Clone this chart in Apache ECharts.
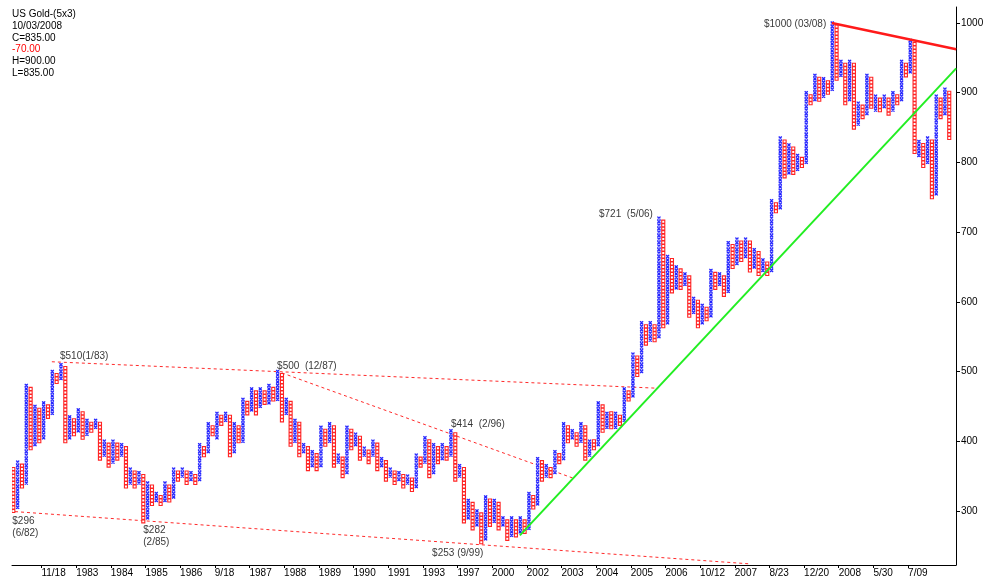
<!DOCTYPE html>
<html><head><meta charset="utf-8">
<script src="https://cdn.jsdelivr.net/npm/echarts@6/dist/echarts.min.js"></script>
<style>html,body{margin:0;padding:0;background:#fff}#c{width:984px;height:578px}</style>
</head><body><div id="c"></div>
<script>
// ---------------- DATA ----------------
const boxSize = 5;
// column types (O = falling, X = rising), one per column
const columnTypes = ('OXOXOXOXOX'.repeat(21) + 'OXOXOXO').split('');
const columnLows = [
  300,305,335,340,390,395,400,405,435,440,
  485,490,400,405,410,415,405,410,415,420,
  375,380,365,370,375,380,335,340,335,340,
  285,290,310,315,310,315,315,320,345,350,
  340,345,340,345,380,385,410,405,425,430,
  380,385,400,400,440,445,440,450,455,455,
  460,460,430,440,395,400,380,385,360,365,
  360,365,395,400,365,370,350,355,390,395,
  375,380,370,380,360,365,345,350,340,345,
  335,340,330,335,365,370,350,355,370,375,
  375,380,345,350,285,290,275,280,255,260,
  280,285,275,280,260,265,265,270,270,275,
  305,310,345,350,350,355,370,375,400,405,
  395,400,375,380,390,395,415,420,420,420,
  425,430,460,465,495,500,540,545,545,550,
  565,570,615,620,620,625,580,585,565,570,
  575,580,620,625,610,615,650,655,660,665,
  645,650,640,645,640,645,730,735,780,785,
  785,790,795,800,885,890,890,895,900,905,
  920,925,885,890,850,855,865,870,880,875,
  875,880,870,875,885,890,925,930,815,810,
  795,800,750,755,865,870,835
];
const columnHighs = [
  360,370,365,480,475,450,445,455,450,500,
  495,510,505,435,430,445,440,430,425,430,
  425,400,395,400,395,395,390,360,355,355,
  350,340,335,325,320,340,335,360,355,360,
  355,355,350,395,390,425,420,440,435,440,
  435,425,420,460,455,475,470,475,470,480,
  475,500,495,460,455,430,425,395,390,385,
  380,420,415,425,420,380,375,420,415,410,
  405,390,385,400,395,375,370,360,355,355,
  350,350,345,380,375,405,400,395,390,395,
  390,415,410,365,360,315,310,300,295,320,
  315,315,310,290,285,290,285,290,285,325,
  320,375,370,365,360,385,380,425,420,415,
  410,425,420,400,400,455,450,440,440,440,
  435,475,470,525,520,570,565,570,565,720,
  715,665,660,650,645,640,635,605,600,595,
  590,645,640,640,635,685,680,690,685,690,
  685,675,670,660,655,745,740,835,830,825,
  820,810,805,900,895,925,920,920,915,1000,
  995,945,940,945,940,885,880,925,920,895,
  890,895,890,900,895,945,940,975,970,830,
  825,835,830,895,890,905,900
];
const xTickLabels = ['11/18','1983','1984','1985','1986','9/18','1987','1988','1989','1990','1991','1993','1997','2000','2002','2003','2004','2005','2006','10/12','2007','8/23','12/20','2008','5/30','7/09'];
const yTickValues = [300,400,500,600,700,800,900,1000];
const infoLines = ['US Gold-(5x3)','10/03/2008','C=835.00','-70.00','H=900.00','L=835.00'];
const annotationTexts = ['$510(1/83)','$296\n(6/82)','$282\n(2/85)','$500  (12/87)','$414  (2/96)','$253 (9/99)','$721  (5/06)','$1000 (03/08)'];
const annotationCols = [11,0,30,61,101,108,149,189];
const annotationPrices = [510,300,285,500,415,255,720,1000];
// trend lines: [col, price] endpoints
const resistanceTop = [[8.9,514],[148.8,476]];
const resistanceMid = [[62,498],[129.2,347]];
const supportBottom = [[0.4,299],[170,224]];
const greenTrend = [[116.9,265],[217.6,935]];
const redTrend = [[188.9,1000],[217.6,962.5]];

// ---------------- CHART ----------------
const tickCols = xTickLabels.map((_, k) => 6.5 + 8 * k);
const pfData = columnLows.map((lo, j) => [j, lo, columnHighs[j], columnTypes[j] === 'X' ? 1 : 0]);
const FONT = '"Liberation Sans", Arial, sans-serif';

const annStyle = [
  {align:'left', offset:[-1,-8.5]},
  {align:'left', offset:[-1,16]},
  {align:'left', offset:[0,14.5]},
  {align:'left', offset:[-0.5,-5.5]},
  {align:'left', offset:[0,-6.7]},
  {align:'right', offset:[2,11]},
  {align:'right', offset:[-6,-4]},
  {align:'right', offset:[-6,1]}
];

const chart = echarts.init(document.getElementById('c'), null, {renderer:'canvas'});
const dashed = {color:'#ff2a2a', width:1, type:[3,3]};
chart.setOption({
  animation:false,
  backgroundColor:'#ffffff',
  grid:{left:12, right:28, top:7, bottom:13, containLabel:false, outerBoundsMode:'none'},
  xAxis:{
    type:'value', min:-0.3, max:217.56,
    axisLine:{onZero:false, lineStyle:{color:'#000', width:1}},
    axisTick:{customValues:tickCols, length:3, lineStyle:{color:'#000'}},
    axisLabel:{customValues:tickCols, formatter:v => xTickLabels[Math.round((v-6.5)/8)] || '',
      align:'left', fontSize:10, fontFamily:FONT, color:'#000', margin:3},
    splitLine:{show:false}
  },
  yAxis:{
    type:'value', position:'right', min:222.4, max:1023,
    axisLine:{show:true, onZero:false, lineStyle:{color:'#000', width:1}},
    axisTick:{show:true, inside:false, customValues:yTickValues, length:4, lineStyle:{color:'#000'}},
    axisLabel:{customValues:yTickValues, formatter:v => String(v), fontSize:10, fontFamily:FONT, color:'#000', margin:5},
    splitLine:{show:false}
  },
  series:[
    {type:'line', data:resistanceTop, symbol:'none', lineStyle:dashed, z:1},
    {type:'line', data:resistanceMid, symbol:'none', lineStyle:dashed, z:1},
    {type:'line', data:supportBottom, symbol:'none', lineStyle:dashed, z:1},
    {
      type:'custom', data:pfData, encode:{x:0, y:[1,2]}, clip:true, z:2,
      renderItem(params, api){
        const j = api.value(0), lo = api.value(1), hi = api.value(2), isX = api.value(3) === 1;
        const sz = api.size([1, boxSize]);
        const g = Math.min(sz[0], sz[1]) * 0.88;
        const h = g / 2;
        let d = '', bg = '';
        for (let p = lo; p <= hi + 0.01; p += boxSize) {
          const c = api.coord([j, p]);
          const x0 = c[0] - h, y0 = c[1] - h;
          if (isX) {
            d += 'M' + x0 + ',' + y0 + 'L' + (x0+g) + ',' + (y0+g) + 'M' + (x0+g) + ',' + y0 + 'L' + x0 + ',' + (y0+g);
            bg += 'M' + x0 + ',' + y0 + 'h' + g + 'v' + g + 'h' + (-g) + 'Z';
          } else {
            d += 'M' + x0 + ',' + y0 + 'h' + g + 'v' + g + 'h' + (-g) + 'Z';
          }
        }
        if (isX) {
          return {type:'group', children:[
            {type:'path', shape:{pathData:bg}, style:{fill:'#b4b4ff', stroke:null}},
            {type:'path', shape:{pathData:d}, style:{fill:null, stroke:'#2222ff', lineWidth:1.1}}
          ]};
        }
        return {type:'path', shape:{pathData:d}, style:{fill:'#ffffff', stroke:'#ff2424', lineWidth:1.1}};
      }
    },
    {type:'line', data:greenTrend, symbol:'none', lineStyle:{color:'#22ee22', width:2}, z:3},
    {type:'line', data:redTrend, symbol:'none', lineStyle:{color:'#ff1a1a', width:2.5}, z:3},
    {
      type:'scatter', symbolSize:1, itemStyle:{color:'rgba(0,0,0,0)'}, z:4, silent:true,
      data: annotationTexts.map((t, i) => ({
        value:[annotationCols[i], annotationPrices[i]],
        label:{show:true, position:'inside', formatter:t, align:annStyle[i].align, verticalAlign:'middle',
          offset:annStyle[i].offset, fontSize:10, fontFamily:FONT, color:'#000', lineHeight:12}
      }))
    }
  ],
  graphic: infoLines.map((t, i) => ({
    type:'text', left:12, top:9 + i * 11.9,
    style:{text:t, fill: i === 3 ? '#ff0000' : '#000', font:'10px ' + FONT}
  }))
});
</script>
</body></html>
